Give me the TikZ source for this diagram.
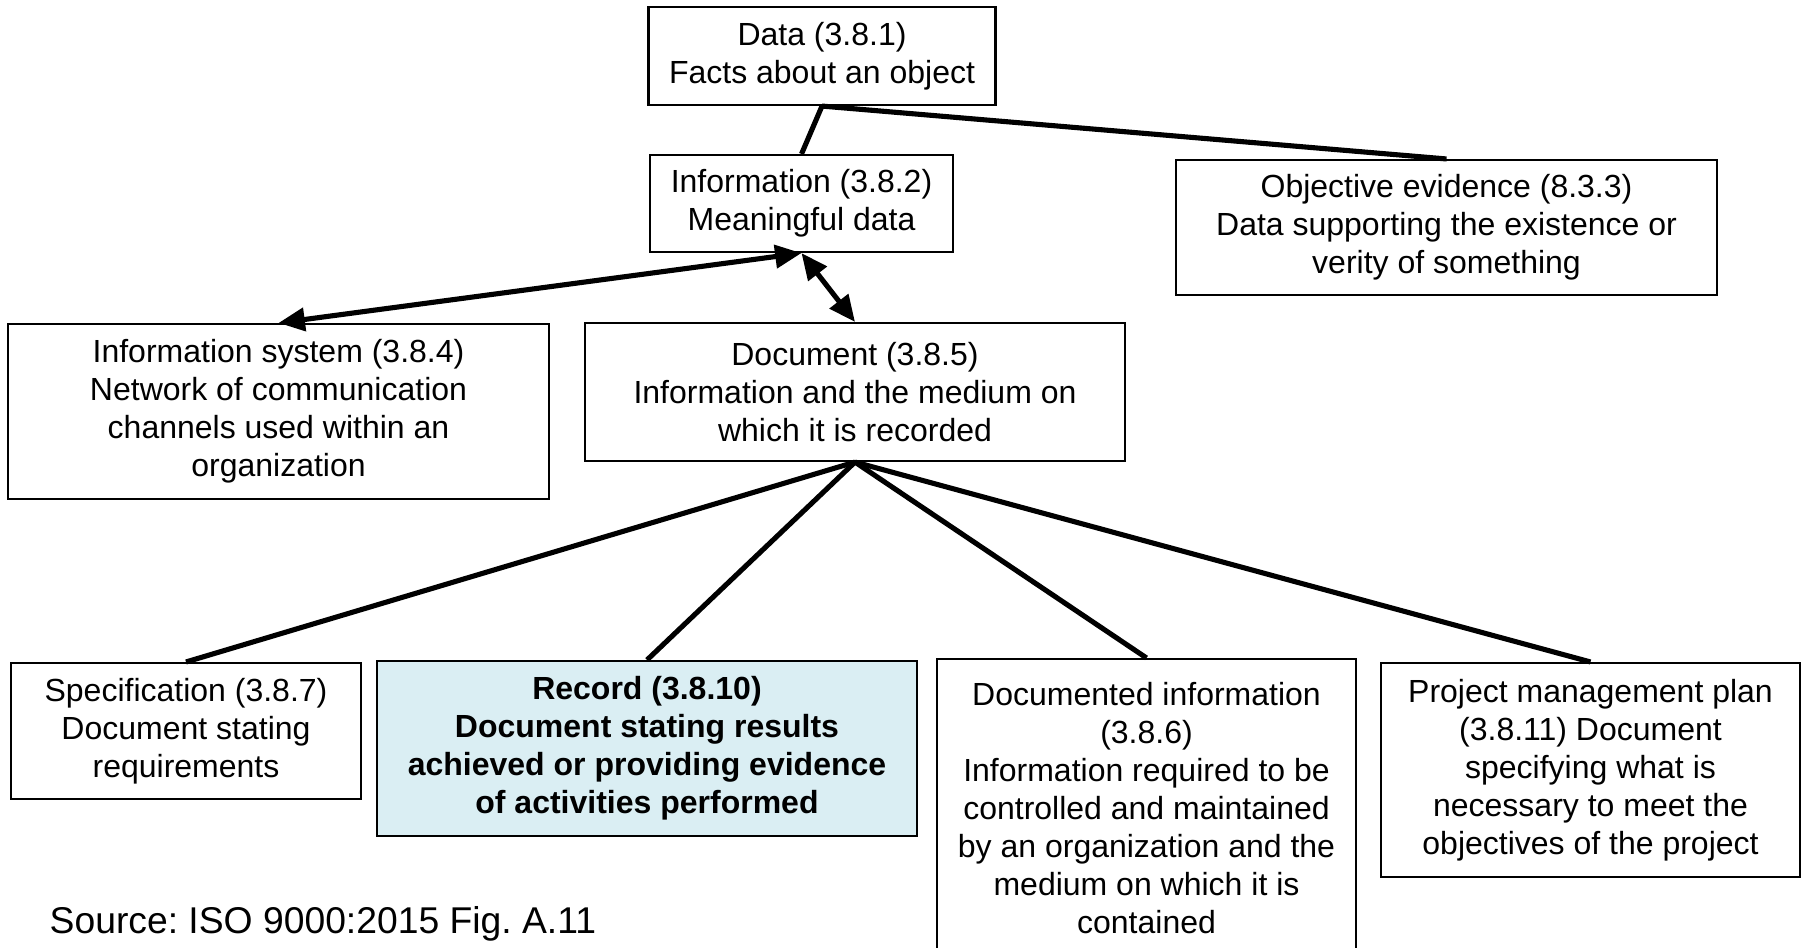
\documentclass[tikz,border=0pt]{standalone}
\usepackage{fontspec}
\setmainfont{Liberation Sans}
\usepackage{tikz}
\usetikzlibrary{arrows.meta}

\definecolor{recfill}{RGB}{218,238,243}
\frenchspacing

\begin{document}
\begin{tikzpicture}[
    x=0.01cm, y=-0.01cm,
    box/.style={draw, line width=0.6pt, align=center, inner sep=2pt,
        font=\fontsize{9.1}{10.8}\selectfont},
    recbox/.style={box, fill=recfill, font=\fontsize{9.1}{10.8}\selectfont\bfseries},
    line/.style={line width=1.45pt},
    dline/.style={line, {Triangle[length=7.5pt, width=6.5pt]}-{Triangle[length=7.5pt, width=6.5pt]}}
]
    \useasboundingbox (0,0) rectangle (1806,947);

    \node[box, minimum width=347*0.01cm, minimum height=98*0.01cm] (data) at (822,56)
        {Data (3.8.1)\\Facts about an object};
    \node[box, minimum width=303*0.01cm, minimum height=97*0.01cm] (info) at (801.5,203.5)
        {Information (3.8.2)\\Meaningful data};
    \node[box, minimum width=541*0.01cm, minimum height=135*0.01cm] (objev) at (1446.5,227.5)
        {Objective evidence (8.3.3)\\Data supporting the existence or\\verity of something};
    \node[box, minimum width=541*0.01cm, minimum height=175*0.01cm] (infosys) at (278.5,411.5)
        {Information system (3.8.4)\\Network of communication\\channels used within an\\organization};
    \node[box, minimum width=540*0.01cm, minimum height=138*0.01cm] (document) at (855,392)
        {Document (3.8.5)\\Information and the medium on\\which it is recorded};
    \node[box, minimum width=350*0.01cm, minimum height=136*0.01cm] (spec) at (186,731)
        {Specification (3.8.7)\\Document stating\\requirements};
    \node[recbox, minimum width=540*0.01cm, minimum height=175*0.01cm] (record) at (647,748.5)
        {Record (3.8.10)\\Document stating results\\achieved or providing evidence\\of activities performed};
    \node[box, minimum width=419*0.01cm, minimum height=298*0.01cm] (docinfo) at (1146.5,808)
        {Documented information\\(3.8.6)\\Information required to be\\controlled and maintained\\by an organization and the\\medium on which it is\\contained};
    \node[box, minimum width=419*0.01cm, minimum height=214*0.01cm] (pmplan) at (1590.5,770)
        {Project management plan\\(3.8.11) Document\\specifying what is\\necessary to meet the\\objectives of the project};
    \node[anchor=base west, inner sep=0pt, font=\fontsize{10.6}{12}\selectfont] (source) at (49,933)
        {Source: ISO 9000:2015 Fig. A.11};

    \draw[line] (data.south) -- (info.north);
    \draw[line] (data.south) -- (objev.north);
    \draw[dline] (info.south) -- (infosys.north);
    \draw[dline] (info.south) -- (document.north);
    \draw[line] (document.south) -- (spec.north);
    \draw[line] (document.south) -- (record.north);
    \draw[line] (document.south) -- (docinfo.north);
    \draw[line] (document.south) -- (pmplan.north);
\end{tikzpicture}
\end{document}
